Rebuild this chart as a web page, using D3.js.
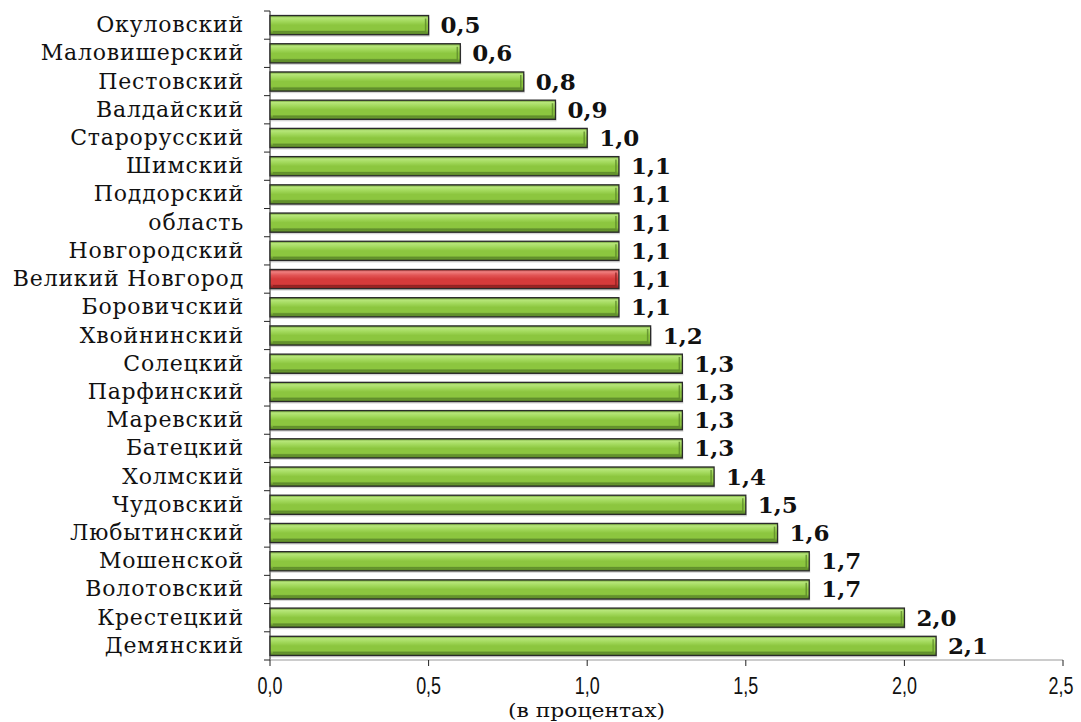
<!DOCTYPE html>
<html><head><meta charset="utf-8">
<script src="https://cdn.jsdelivr.net/npm/d3@7"></script>
<style>body{margin:0;background:#fff}</style>
</head><body>
<svg id="c" width="1081" height="722"></svg>
<script>
const categories = ["Окуловский","Маловишерский","Пестовский","Валдайский","Старорусский","Шимский","Поддорский","область","Новгородский","Великий Новгород","Боровичский","Хвойнинский","Солецкий","Парфинский","Маревский","Батецкий","Холмский","Чудовский","Любытинский","Мошенской","Волотовский","Крестецкий","Демянский"];
const values = [0.5,0.6,0.8,0.9,1.0,1.1,1.1,1.1,1.1,1.1,1.1,1.2,1.3,1.3,1.3,1.3,1.4,1.5,1.6,1.7,1.7,2.0,2.1];
const highlight = ["Великий Новгород"];
const xTicks = [0,0.5,1.0,1.5,2.0,2.5];
const axisTitle = "(в процентах)";

const svg = d3.select("#c");
const fmt = v => d3.format(".1f")(v).replace(".", ",");
const x = d3.scaleLinear().domain([0,2.5]).range([270,1063]);
const y = d3.scaleBand().domain(categories).range([11,660]).paddingInner(0.32).paddingOuter(0.16);

const defs = svg.append("defs");
function grad(id, stops){
  const g = defs.append("linearGradient").attr("id",id).attr("x1",0).attr("y1",0).attr("x2",0).attr("y2",1);
  stops.forEach(s=>g.append("stop").attr("offset",s[0]).attr("stop-color",s[1]));
}
grad("gGreen",[[0,"#5f8f2a"],[0.12,"#b7e67a"],[0.3,"#a2d95c"],[0.5,"#8cc63f"],[0.75,"#8cc63f"],[0.88,"#6c9c30"],[1,"#4f7a22"]]);
grad("gRed",[[0,"#8a1e1e"],[0.12,"#f08080"],[0.3,"#e25555"],[0.5,"#d63b3b"],[0.75,"#d63b3b"],[0.88,"#a52a2a"],[1,"#7a1a1a"]]);

// y axis line and ticks
svg.append("line").attr("x1",270).attr("x2",270).attr("y1",11).attr("y2",660).attr("stroke","#222").attr("stroke-width",1);
for(let i=0;i<=categories.length;i++){
  const yy = 11 + i*((660-11)/categories.length);
  svg.append("line").attr("x1",264).attr("x2",270).attr("y1",yy).attr("y2",yy).attr("stroke","#222");
}
// x axis
svg.append("line").attr("x1",270).attr("x2",1063).attr("y1",660).attr("y2",660).attr("stroke","#999").attr("stroke-width",1.2);
xTicks.forEach(t=>{
  svg.append("line").attr("x1",x(t)).attr("x2",x(t)).attr("y1",660).attr("y2",666).attr("stroke","#222");
  const lx = Math.min(x(t), 1061);
  svg.append("text").attr("transform",`translate(${lx},694) scale(0.78,1)`).attr("text-anchor","middle")
    .attr("font-family","'Liberation Sans',Arial,sans-serif")
    .attr("font-size",23).attr("fill","#111").text(fmt(t));
});
svg.append("text").attr("x",508).attr("y",717)
  .attr("font-family","'DejaVu Serif',serif").attr("font-size",19).attr("fill","#111")
  .attr("textLength",157).attr("lengthAdjust","spacingAndGlyphs").text(axisTitle);

// bars
const g = svg.append("g");
categories.forEach((c,i)=>{
  const v = values[i];
  const isH = highlight.includes(c);
  const bx = x(0), bw = x(v)-x(0), by = y(c), bh = y.bandwidth();
  g.append("rect").attr("x",bx+1).attr("y",by+2).attr("width",bw).attr("height",bh).attr("fill","#bbb").attr("opacity",0.6);
  g.append("rect").attr("x",bx).attr("y",by).attr("width",bw).attr("height",bh)
    .attr("fill",isH?"url(#gRed)":"url(#gGreen)").attr("stroke","#2a2a2a").attr("stroke-width",1.3);
  g.append("path").attr("d",`M${bx+3},${by+bh-3} L${bx+bw-3},${by+bh-3} L${bx+bw-3},${by+3}`)
    .attr("fill","none").attr("stroke",isH?"#8a2020":"#5d8a2a").attr("stroke-width",1.5).attr("opacity",0.8);
  g.append("text").attr("x",x(v)+12).attr("y",by+bh/2+8)
    .attr("font-family","'DejaVu Serif',serif").attr("font-weight","bold").attr("font-size",23).attr("fill","#111").text(fmt(v));
  g.append("text").attr("x",244).attr("y",by+bh/2+7).attr("text-anchor","end")
    .attr("font-family","'DejaVu Serif',serif").attr("font-size",22).attr("letter-spacing",0.8).attr("fill","#111").text(c);
});
</script>
</body></html>
